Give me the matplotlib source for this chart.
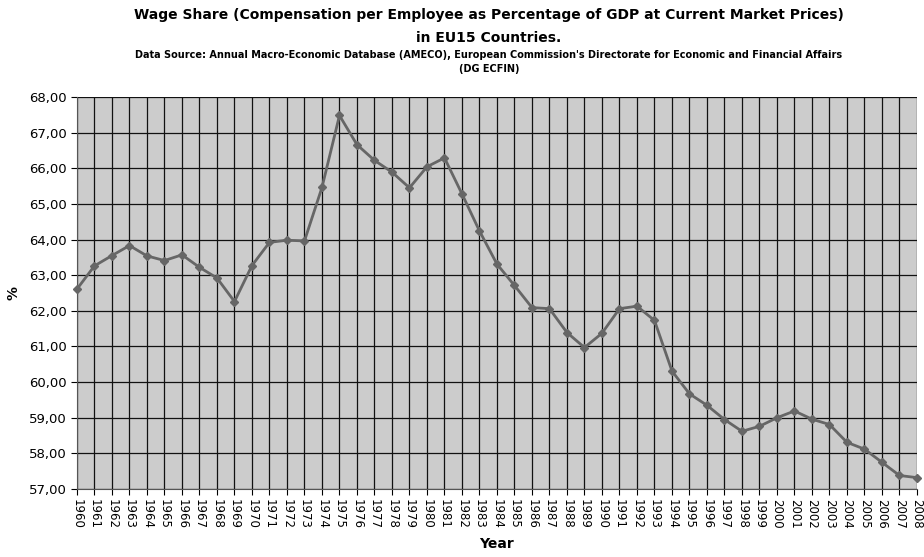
"""
Wage share in EU15 countries, 1960-2008
"""

import matplotlib.pyplot as plt
from matplotlib.ticker import FuncFormatter

# ========== Data ==========
years = list(range(1960, 2009))
wage_share = [
    62.61, 63.26, 63.55, 63.83, 63.54, 63.41, 63.57, 63.22, 62.92, 62.26,
    63.27, 63.92, 63.98, 63.96, 65.46, 67.48, 66.66, 66.22, 65.89, 65.45,
    66.04, 66.29, 65.28, 64.24, 63.31, 62.71, 62.09, 62.06, 61.39, 60.97,
    61.37, 62.06, 62.13, 61.73, 60.31, 59.67, 59.35, 58.95, 58.62, 58.76,
    59.00, 59.19, 58.96, 58.81, 58.31, 58.12, 57.75, 57.38, 57.32,
]
y_ticks = list(range(57, 69))

title = ("Wage Share (Compensation per Employee as Percentage of GDP at Current Market Prices)\n"
         "in EU15 Countries.")
subtitle = ("Data Source: Annual Macro-Economic Database (AMECO), European Commission's "
            "Directorate for Economic and Financial Affairs\n(DG ECFIN)")

# ========== Plot ==========
fig = plt.figure(figsize=(9.24, 5.57), dpi=100)
ax = fig.add_axes([0.0833, 0.122, 0.9091, 0.704])
ax.set_facecolor('#cccccc')

ax.plot(years, wage_share, color='#666666', linewidth=2.0, marker='D',
        markersize=4.5, zorder=3, clip_on=False)

ax.set_xlim(1960, 2008)
ax.set_ylim(57, 68)
ax.set_xticks(years)
ax.set_xticklabels([str(y) for y in years], rotation=270, fontsize=8.5)
ax.set_yticks(y_ticks)
ax.yaxis.set_major_formatter(FuncFormatter(lambda v, p: f"{v:.2f}".replace('.', ',')))
ax.tick_params(axis='y', labelsize=9.5, length=4, direction='out')
ax.tick_params(axis='x', length=4, direction='out', pad=3)
ax.grid(True, color='#111111', linewidth=0.9)
ax.set_axisbelow(True)
for s in ('top', 'right'):
    ax.spines[s].set_visible(False)
ax.spines['left'].set_color('#555555')
ax.spines['bottom'].set_color('#555555')

ax.set_ylabel('%', fontsize=10, fontweight='bold', labelpad=6)
ax.set_xlabel('Year', fontsize=10, fontweight='bold', labelpad=6)

fig.text(0.529, 0.985, title, ha='center', va='top', fontsize=10,
         fontweight='bold', linespacing=1.75)
fig.text(0.529, 0.91, subtitle, ha='center', va='top', fontsize=7,
         fontweight='bold', linespacing=1.5)

plt.savefig('out.png', dpi=fig.dpi)
